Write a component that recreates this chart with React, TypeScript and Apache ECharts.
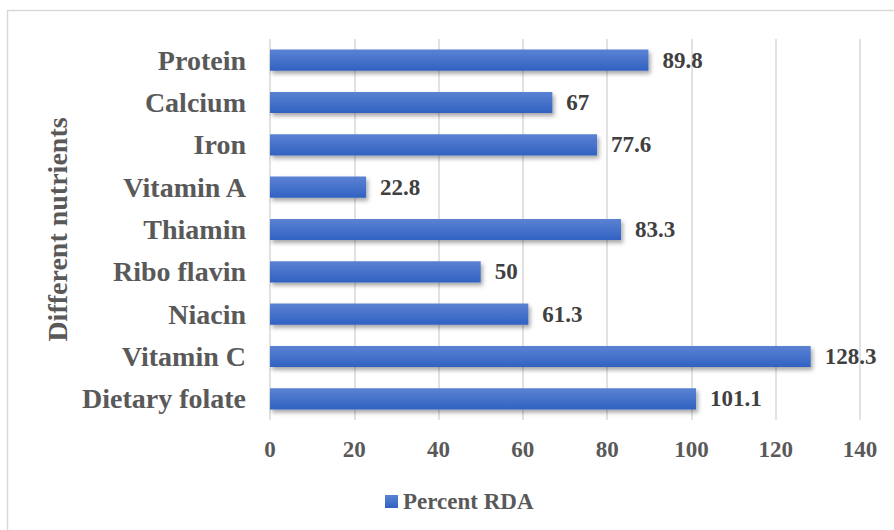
import React, { useEffect, useRef } from "react";
import * as echarts from "echarts";

const categories = ["Protein", "Calcium", "Iron", "Vitamin A", "Thiamin", "Ribo flavin", "Niacin", "Vitamin C", "Dietary folate"];
const percentRDA = [89.8, 67, 77.6, 22.8, 83.3, 50, 61.3, 128.3, 101.1];
const xTicks = { min: 0, max: 140, interval: 20 };

const FONT = "'Liberation Serif', 'Times New Roman', serif";

export default function App() {
  const ref = useRef<HTMLDivElement>(null);
  useEffect(() => {
    if (!ref.current) return;
    const chart = echarts.init(ref.current, null, { renderer: "svg" });
    chart.setOption({
      animation: false,
      backgroundColor: "#ffffff",
      textStyle: { fontFamily: FONT },
      graphic: [
        {
          type: "rect",
          shape: { x: 7.5, y: 10.5, width: 900, height: 540 },
          style: { fill: "none", stroke: "#d9d9d9", lineWidth: 1.5 },
          silent: true,
        },
      ],
      grid: { left: 270, right: 34, top: 39, bottom: 110, containLabel: false },
      legend: {
        data: ["Percent RDA"],
        left: 380,
        top: 485,
        itemWidth: 13,
        itemHeight: 13,
        itemGap: 6,
        icon: "rect",
        textStyle: { fontFamily: FONT, fontSize: 23, fontWeight: "bold", color: "#595959" },
      },
      xAxis: {
        type: "value",
        min: xTicks.min,
        max: xTicks.max,
        interval: xTicks.interval,
        axisLine: { show: false },
        axisTick: { show: false },
        splitLine: { show: true, lineStyle: { color: "#d9d9d9", width: 1.5 } },
        axisLabel: { fontFamily: FONT, fontSize: 23, fontWeight: "bold", color: "#595959", margin: 18 },
      },
      yAxis: {
        type: "category",
        data: categories,
        inverse: true,
        axisLine: { show: false },
        axisTick: { show: false },
        axisLabel: { fontFamily: FONT, fontSize: 28, fontWeight: "bold", color: "#595959", margin: 24 },
        name: "Different nutrients",
        nameLocation: "middle",
        nameRotate: 90,
        nameGap: 193,
        nameTextStyle: { fontFamily: FONT, fontSize: 28, fontWeight: "bold", color: "#595959" },
      },
      series: [
        {
          name: "Percent RDA",
          type: "bar",
          data: percentRDA,
          barWidth: "50%",
          itemStyle: {
            color: new echarts.graphic.LinearGradient(0, 0, 0, 1, [
              { offset: 0, color: "#5b82d3" },
              { offset: 1, color: "#3162c2" },
            ]),
            shadowColor: "rgba(0,0,0,0.35)",
            shadowBlur: 4,
            shadowOffsetX: 2,
            shadowOffsetY: 3,
          },
          label: {
            show: true,
            position: "right",
            distance: 14,
            fontFamily: FONT,
            fontSize: 23,
            fontWeight: "bold",
            color: "#404040",
          },
        },
      ],
    });
    return () => chart.dispose();
  }, []);
  return <div ref={ref} style={{ position: "absolute", left: 0, top: 0, width: 894, height: 530 }} />;
}
